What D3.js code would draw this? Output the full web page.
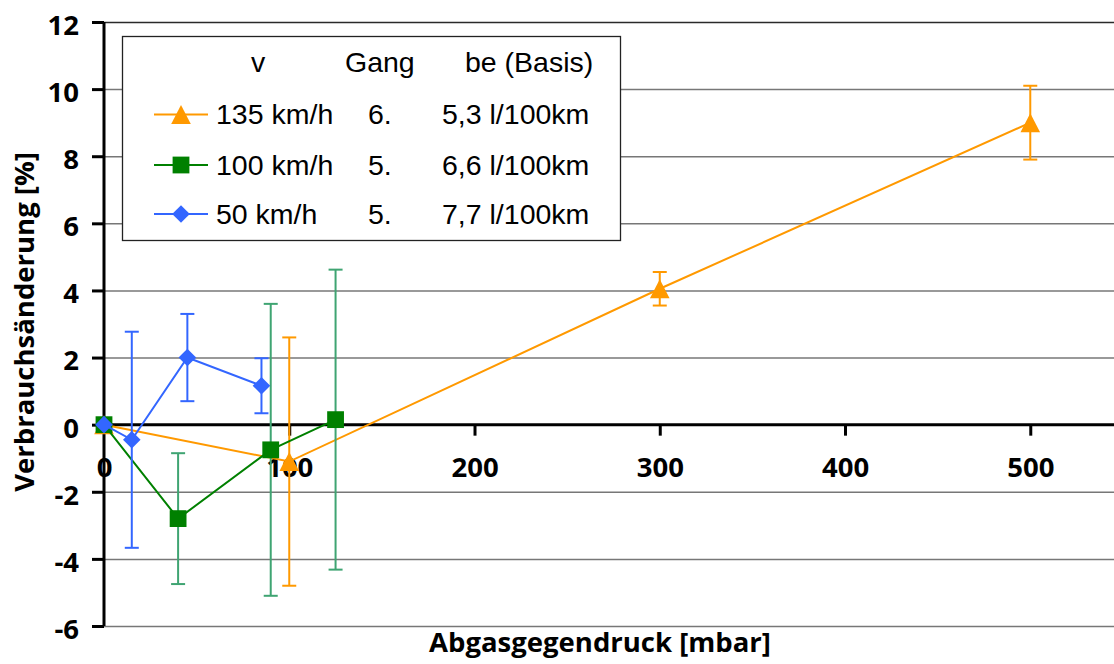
<!DOCTYPE html>
<html>
<head>
<meta charset="utf-8">
<script src="https://cdn.jsdelivr.net/npm/d3@7"></script>
<style>
  html, body { margin: 0; padding: 0; background: #fff; }
  svg { display: block; }
</style>
</head>
<body>
<svg id="chart" width="1114" height="664"></svg>
<script>
// Measured series: exhaust back pressure [mbar] vs. change in fuel consumption [%] with ± error
const pressure135 = [0, 100, 300, 500];
const change135   = [0, -1.1, 4.05, 9.0];
const error135    = [0, 3.7, 0.5, 1.1];

const pressure100 = [0, 40, 90, 125];
const change100   = [0, -2.8, -0.75, 0.15];
const error100    = [0, 1.95, 4.35, 4.47];

const pressure50  = [0, 15, 45, 85];
const change50    = [0, -0.45, 2.0, 1.16];
const error50     = [0, 3.22, 1.3, 0.82];

// Legend table
const speeds      = ["135 km/h", "100 km/h", "50 km/h"];
const gears       = ["6.", "5.", "5."];
const baseFuel    = ["5,3 l/100km", "6,6 l/100km", "7,7 l/100km"];
const legendHead  = ["v", "Gang", "be (Basis)"];

// Axis ticks
const xTicks = [0, 100, 200, 300, 400, 500];
const yTicks = [-6, -4, -2, 0, 2, 4, 6, 8, 10, 12];

const xTitle = "Abgasgegendruck [mbar]";
const yTitle = "Verbrauchsänderung [%]";

const svg = d3.select("#chart");
const W = 1114, H = 664;

const x = d3.scaleLinear().domain([0, 550]).range([104, 1122.9]);
const y = d3.scaleLinear().domain([-6, 12]).range([626, 22]);

const tickFont = "'Open Sans', 'Noto Sans', sans-serif";
const legendFont = "'Liberation Sans', Arial, sans-serif";
const fmt = v => String(v);   // plain hyphen-minus for negative labels

// Horizontal gridlines
const grid = svg.append("g")
  .attr("transform", `translate(${x(0)},0)`)
  .call(d3.axisLeft(y).tickValues(yTicks.filter(v => v !== 0)).tickSize(-(W - x(0))).tickFormat(""));
grid.select(".domain").remove();
grid.selectAll(".tick line")
  .attr("stroke", d => d === 12 ? "#2a2a2a" : "#777")
  .attr("stroke-width", 1.5);

// Legend box (drawn before the data so the markers stay in front)
const legend = svg.append("g");
legend.append("rect")
  .attr("x", 122.5).attr("y", 36.5).attr("width", 498).attr("height", 204)
  .attr("fill", "#fff").attr("stroke", "#222").attr("stroke-width", 1.3);

// Y axis
const yAxis = svg.append("g")
  .attr("transform", `translate(${x(0)},0)`)
  .call(d3.axisLeft(y).tickValues(yTicks).tickSize(12).tickPadding(13).tickFormat(fmt));
yAxis.select(".domain").attr("stroke", "#000").attr("stroke-width", 3)
  .attr("d", `M0,${y(12)}V${y(-6)}`);
yAxis.selectAll(".tick line").attr("stroke", "#000").attr("stroke-width", 3);
yAxis.selectAll(".tick text")
  .attr("font-family", tickFont).attr("font-weight", 700).attr("font-size", 27.5)
  .attr("fill", "#000").attr("dy", "0.45em");

// X axis on the zero line
const xAxis = svg.append("g")
  .attr("transform", `translate(0,${y(0)})`)
  .call(d3.axisBottom(x).tickValues(xTicks).tickSize(11).tickPadding(22).tickFormat(fmt));
xAxis.select(".domain").attr("stroke", "#000").attr("stroke-width", 3)
  .attr("d", `M${x(0)},0H${W}`);
xAxis.selectAll(".tick line").attr("stroke", "#000").attr("stroke-width", 3)
  .attr("display", d => d === 0 ? "none" : null);
xAxis.selectAll(".tick text")
  .attr("font-family", tickFont).attr("font-weight", 700).attr("font-size", 27.5)
  .attr("fill", "#000").attr("dy", "0.71em");

// Marker shapes
const triangleType = { draw(ctx, size) { const w = 9.8, h = 9.5; ctx.moveTo(0, -h); ctx.lineTo(w, h); ctx.lineTo(-w, h); ctx.closePath(); } };
const squareType   = { draw(ctx, size) { const s = 8.4; ctx.rect(-s, -s, 2 * s, 2 * s); } };
const diamondType  = { draw(ctx, size) { const r = 8.8; ctx.moveTo(0, -r); ctx.lineTo(r, 0); ctx.lineTo(0, r); ctx.lineTo(-r, 0); ctx.closePath(); } };

const series = [
  { px: pressure135, py: change135, pe: error135, color: "#FF9900", errColor: "#FF9900", type: triangleType },
  { px: pressure100, py: change100, pe: error100, color: "#008000", errColor: "#3FA472", type: squareType },
  { px: pressure50,  py: change50,  pe: error50,  color: "#3366FF", errColor: "#3366FF", type: diamondType }
];

const line = d3.line().x(d => x(d[0])).y(d => y(d[1]));

series.forEach(s => {
  const pts = s.px.map((p, i) => [p, s.py[i], s.pe[i]]);
  const g = svg.append("g");
  g.append("path").datum(pts).attr("d", line)
    .attr("fill", "none").attr("stroke", s.color).attr("stroke-width", 2);
  const eb = g.selectAll(".err").data(pts.filter(d => d[2] > 0)).join("g");
  eb.append("line")
    .attr("x1", d => x(d[0])).attr("x2", d => x(d[0]))
    .attr("y1", d => y(d[1] + d[2])).attr("y2", d => y(d[1] - d[2]))
    .attr("stroke", s.errColor).attr("stroke-width", 2);
  [1, -1].forEach(sign => {
    eb.append("line")
      .attr("x1", d => x(d[0]) - 7).attr("x2", d => x(d[0]) + 7)
      .attr("y1", d => y(d[1] + sign * d[2])).attr("y2", d => y(d[1] + sign * d[2]))
      .attr("stroke", s.errColor).attr("stroke-width", 2);
  });
  g.selectAll(".mk").data(pts).join("path")
    .attr("transform", d => `translate(${x(d[0])},${y(d[1])})`)
    .attr("d", d3.symbol().type(s.type))
    .attr("fill", s.color);
});

// Legend content
const headX = [251, 345, 465];
legend.selectAll(".head").data(legendHead).join("text")
  .attr("x", (d, i) => headX[i]).attr("y", 72)
  .attr("font-family", legendFont).attr("font-size", 28.5).attr("fill", "#000")
  .text(d => d);

const rowY = [114.5, 165, 214];
series.forEach((s, i) => {
  legend.append("line")
    .attr("x1", 154).attr("x2", 208).attr("y1", rowY[i]).attr("y2", rowY[i])
    .attr("stroke", s.color).attr("stroke-width", 2);
  legend.append("path")
    .attr("transform", `translate(181,${rowY[i]})`)
    .attr("d", d3.symbol().type(s.type))
    .attr("fill", s.color);
  const cols = [speeds[i], gears[i], baseFuel[i]];
  const colX = [216, 368, 442];
  cols.forEach((t, j) => {
    legend.append("text")
      .attr("x", colX[j]).attr("y", rowY[i] + 9.5)
      .attr("font-family", legendFont).attr("font-size", 28.5).attr("fill", "#000")
      .text(t);
  });
});

// Axis titles
svg.append("text")
  .attr("x", 600).attr("y", 652)
  .attr("text-anchor", "middle")
  .attr("font-family", tickFont).attr("font-weight", 700).attr("font-size", 27.5)
  .attr("fill", "#000").text(xTitle);

svg.append("text")
  .attr("transform", "translate(34,322) rotate(-90)")
  .attr("text-anchor", "middle")
  .attr("font-family", tickFont).attr("font-weight", 700).attr("font-size", 27.5)
  .attr("fill", "#000").text(yTitle);
</script>
</body>
</html>
